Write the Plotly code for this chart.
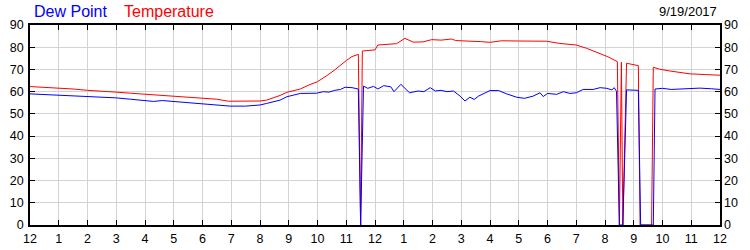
import plotly.graph_objects as go

# Hours after midnight (0..24) and readings in °F
temp_hours = [0, 0.5, 1, 1.5, 2, 2.5, 3, 3.5, 4, 4.5, 5, 5.5, 6, 6.5, 6.9, 7.5, 8.0,
              8.23, 8.7, 8.93, 9.4, 9.7, 10.0, 10.3, 10.6, 11.0, 11.2, 11.42, 11.5,
              11.56, 11.8, 12.0, 12.1, 12.5, 12.75, 13.04, 13.33, 13.67, 13.97, 14.3,
              14.67, 14.8, 15.3, 15.7, 16.0, 16.4, 17.0, 17.97, 18.43, 19.0, 19.36,
              19.8, 20.1, 20.43, 20.5, 20.57, 20.62, 20.75, 21.16, 21.22, 21.62,
              21.68, 21.9, 22.26, 22.6, 22.96, 23.5, 24.0]
temp_f = [62.3, 62.0, 61.6, 61.2, 60.6, 60.3, 59.8, 59.3, 58.8, 58.3, 57.9, 57.4, 57.0,
          56.6, 55.7, 55.7, 55.8, 56.2, 58.3, 59.7, 61.2, 63.0, 64.5, 67.0, 69.8, 74.0,
          75.8, 76.8, 0, 78.3, 78.5, 78.8, 81.0, 81.3, 81.6, 84.0, 82.3, 82.4, 83.4,
          83.2, 83.7, 83.0, 82.9, 82.5, 82.2, 82.9, 82.8, 82.7, 81.7, 81.0, 79.5, 77.2,
          75.7, 73.5, 0, 73.2, 0, 72.8, 71.7, 0, 0, 71.0, 70.1, 69.3, 68.6, 68.0,
          67.7, 67.4]

dew_hours = [0, 0.5, 1, 1.5, 2, 2.5, 3, 3.5, 4, 4.3, 4.6, 5, 5.5, 5.9, 6.26, 6.6, 6.96,
             7.5, 8.0, 8.23, 8.7, 8.93, 9.2, 9.4, 9.97, 10.2, 10.4, 10.6, 10.8, 10.96,
             11.2, 11.42, 11.5, 11.6, 11.75, 11.95, 12.1, 12.3, 12.55, 12.66, 12.9,
             13.2, 13.5, 13.7, 13.92, 14.1, 14.3, 14.5, 14.73, 14.96, 15.13, 15.3,
             15.45, 15.6, 16.0, 16.3, 16.58, 16.93, 17.2, 17.5, 17.74, 17.85, 18.0,
             18.32, 18.55, 18.78, 19.0, 19.24, 19.59, 19.83, 20.06, 20.24, 20.32,
             20.40, 20.5, 20.57, 20.62, 20.75, 21.16, 21.24, 21.68, 21.74, 22.0, 22.3,
             22.6, 22.9, 23.3, 23.7, 24.0]
dew_f = [59.0, 58.7, 58.3, 58.0, 57.8, 57.6, 57.2, 56.6, 56.0, 55.6, 56.0, 55.6, 55.2,
         54.8, 54.3, 53.8, 53.5, 53.5, 54.0, 54.7, 56.2, 57.7, 58.6, 59.2, 59.3, 60.0,
         59.8, 60.6, 61.0, 62.0, 61.8, 61.2, 0, 62.5, 61.5, 62.4, 61.2, 62.7, 62.2,
         60.0, 63.3, 59.5, 60.3, 60.0, 61.8, 60.3, 60.6, 60.0, 60.3, 58.0, 55.8, 57.5,
         56.5, 58.0, 60.5, 60.5, 59.0, 57.5, 57.0, 58.0, 59.5, 57.8, 59.2, 58.8, 60.0,
         59.2, 59.5, 61.0, 61.0, 61.8, 61.5, 60.8, 61.8, 60.2, 0, 0, 0, 60.8, 60.6, 0,
         0, 61.2, 61.5, 61.0, 61.2, 61.5, 61.6, 61.3, 61.0]

hour_ticks = list(range(0, 25))
hour_labels = ["12", "1", "2", "3", "4", "5", "6", "7", "8", "9", "10", "11",
               "12", "1", "2", "3", "4", "5", "6", "7", "8", "9", "10", "11", "12"]
y_ticks = list(range(0, 91, 10))
date_label = "9/19/2017"
series_names = ["Dew Point", "Temperature"]

FONT = "Liberation Sans, Arial, sans-serif"

fig = go.Figure()
fig.add_trace(go.Scatter(x=temp_hours, y=temp_f, mode="lines", name=series_names[1],
                         line=dict(color="#ff0000", width=1), yaxis="y"))
fig.add_trace(go.Scatter(x=dew_hours, y=dew_f, mode="lines", name=series_names[0],
                         line=dict(color="#0000ff", width=1), yaxis="y2"))

axis_common = dict(showline=True, linecolor="black", linewidth=1.5,
                   ticks="inside", ticklen=5, tickcolor="black", tickwidth=1,
                   automargin=False,
                   tickfont=dict(family=FONT, size=12.5, color="black"))

fig.update_layout(
    width=750, height=250,
    margin=dict(l=30, r=30, t=25, b=25, autoexpand=False),
    paper_bgcolor="white", plot_bgcolor="white",
    showlegend=False,
    xaxis=dict(range=[0, 24], tickvals=hour_ticks, ticktext=hour_labels,
               showgrid=True, gridcolor="#d3d3d3", gridwidth=1, mirror="ticks",
               zeroline=False, ticklabelstandoff=1, **axis_common),
    yaxis=dict(range=[0, 90], tickvals=y_ticks, showgrid=True, gridcolor="#d3d3d3",
               gridwidth=1, mirror="ticks", zeroline=False, ticklabelstandoff=2,
               **axis_common),
    yaxis2=dict(range=[0, 90], tickvals=y_ticks, overlaying="y", side="right",
                showgrid=False, zeroline=False, showline=False, ticks="",
                ticklabelstandoff=3, automargin=False,
                tickfont=dict(family=FONT, size=12.5, color="black")),
    annotations=[
        dict(text=series_names[0], x=0, y=1, xref="paper", yref="paper",
             xanchor="left", yanchor="middle", xshift=2, yshift=14, showarrow=False,
             font=dict(family=FONT, size=16, color="#0000ff")),
        dict(text=series_names[1], x=0, y=1, xref="paper", yref="paper",
             xanchor="left", yanchor="middle", xshift=92, yshift=14, showarrow=False,
             font=dict(family=FONT, size=16, color="#ff0000")),
        dict(text=date_label, x=1, y=1, xref="paper", yref="paper",
             xanchor="right", yanchor="middle", xshift=-1, yshift=14, showarrow=False,
             font=dict(family=FONT, size=13, color="black")),
    ],
)

fig.write_html("out.html")
